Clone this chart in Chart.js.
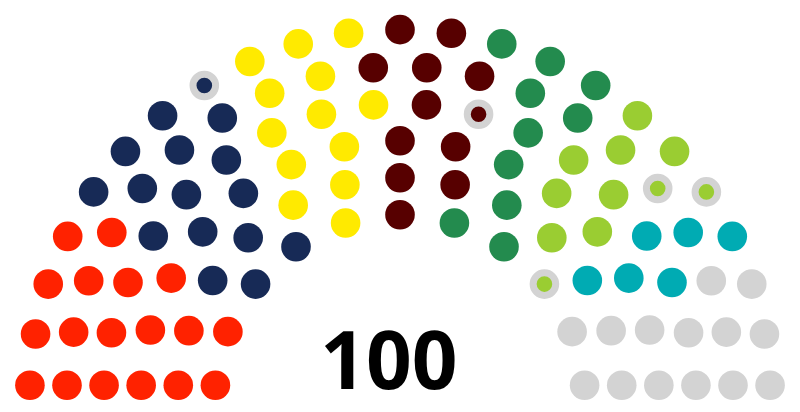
<!DOCTYPE html>
<html>
<head>
<meta charset="utf-8">
<script src="https://cdn.jsdelivr.net/npm/chart.js@4.4.1/dist/chart.umd.min.js"></script>
<style>
  html, body { margin: 0; padding: 0; background: #fff; }
  #seats { display: block; }
</style>
</head>
<body>
<canvas id="seats" width="800" height="412"></canvas>
<script>
// Seat groups, left to right round the hemicycle
const groups = ['Red', 'Navy', 'Navy (marked)', 'Yellow', 'Maroon', 'Maroon (marked)',
                'Green', 'Light green', 'Light green (marked)', 'Teal', 'Grey'];
const seats = [18, 15, 1, 13, 11, 1, 10, 8, 3, 6, 14];
const colors = ['#ff2200', '#172a56', '#172a56', '#ffea00', '#570000', '#570000',
                '#238b4e', '#9acd32', '#9acd32', '#00abb3', '#d3d3d3'];
const marked = [false, false, true, false, false, true, false, false, true, false, false];
const totalLabel = '100';

// Rows needed for a given number of seats (same table as the usual parliament diagram tool)
const rowTotals = [0, 4, 15, 33, 61, 95, 138, 189, 247, 313, 388, 469, 559];

const total = seats.reduce((a, b) => a + b, 0);
let rows = 1;
for (let i = 1; i < rowTotals.length; i++) {
    if (total < rowTotals[i]) { rows = i; break; }
}
const dotR = 0.4 / rows;

// Seat centres: angle, x, y
const spots = [];
function addRow(n, R) {
    if (n === 1) { spots.push([Math.PI / 2, 0, R]); return; }
    const off = Math.sin(dotR / R);
    for (let j = 0; j < n; j++) {
        const a = j * (Math.PI - 2 * off) / (n - 1) + off;
        spots.push([a, R * Math.cos(a), R * Math.sin(a)]);
    }
}
for (let i = 1; i < rows; i++) {
    const n = Math.floor(total / rowTotals[rows] * Math.PI / (2 * Math.asin(2 / (3 * rows + 4 * i - 2))));
    addRow(n, (3 * rows + 4 * i - 2) / (4 * rows));
}
addRow(total - spots.length, (7 * rows - 2) / (4 * rows));
spots.sort((p, q) => (q[0] - p[0]) || (q[1] - p[1]) || (q[2] - p[2]));

// Hand out the sorted seats to groups
let k = 0;
const datasets = groups.map((g, i) => {
    const pts = [];
    for (let s = 0; s < seats[i]; s++, k++) pts.push({ x: spots[k][1], y: spots[k][2] });
    return {
        label: g,
        data: pts,
        backgroundColor: colors[i],
        borderColor: marked[i] ? '#d3d3d3' : colors[i],
        borderWidth: marked[i] ? 7 : 0,
        pointRadius: marked[i] ? 11.3 : 14.8,
        pointHoverRadius: marked[i] ? 11.3 : 14.8,
        clip: false
    };
});

// Total in the middle of the hemicycle
const centreText = {
    id: 'centreText',
    afterDatasetsDraw(chart) {
        const { ctx, scales } = chart;
        ctx.save();
        ctx.font = 'bold 80px "Open Sans", sans-serif';
        ctx.fillStyle = '#000';
        ctx.textAlign = 'center';
        ctx.textBaseline = 'alphabetic';
        ctx.fillText(totalLabel, scales.x.getPixelForValue(-0.05), scales.y.getPixelForValue(0.05));
        ctx.restore();
    }
};

new Chart(document.getElementById('seats'), {
    type: 'scatter',
    data: { datasets: datasets },
    options: {
        responsive: false,
        animation: false,
        events: [],
        layout: { padding: 0, autoPadding: false },
        scales: {
            x: { type: 'linear', min: -1.8, max: 1.8, display: false },
            y: { type: 'linear', min: 1.8 - 412 / (800 / 3.6), max: 1.8, display: false }
        },
        plugins: {
            legend: { display: false },
            tooltip: { enabled: false }
        }
    },
    plugins: [centreText]
});
</script>
</body>
</html>
